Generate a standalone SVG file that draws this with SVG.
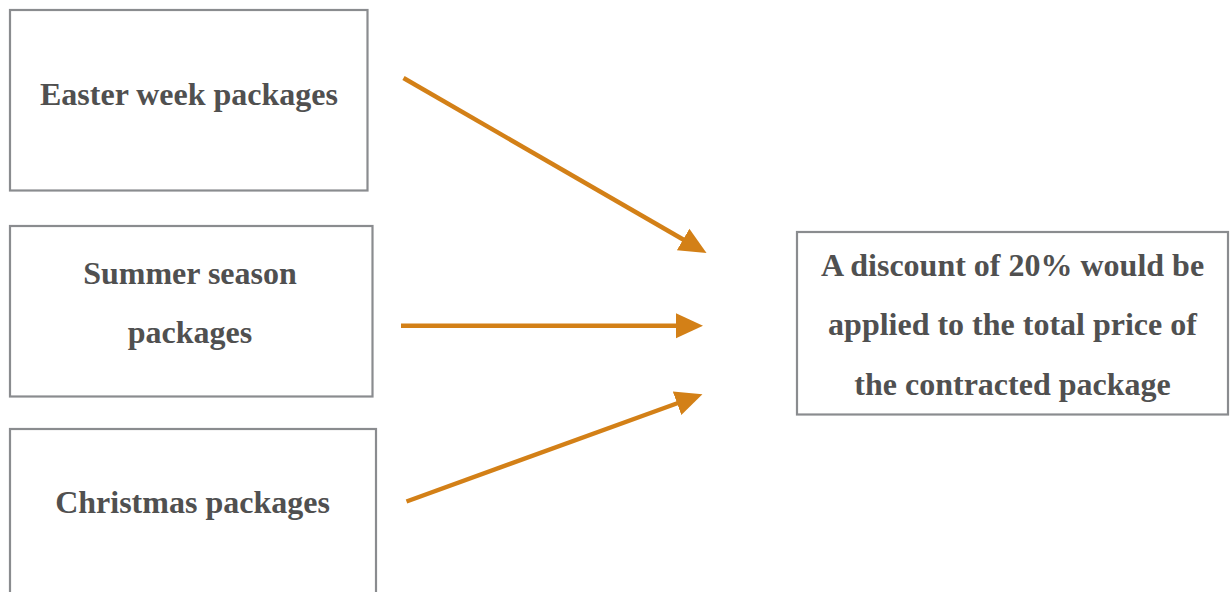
<svg xmlns="http://www.w3.org/2000/svg" width="1230" height="592" viewBox="0 0 1230 592">
<style>
.box{fill:#fff;stroke:#8a8c8f;stroke-width:2.2}
.t{font-family:"Liberation Serif","Times New Roman",serif;font-weight:bold;font-size:32px;fill:#505050;text-anchor:middle}
.c{stroke:#d38017;stroke-width:4.5;fill:none}
</style>
<defs>
<marker id="ah" markerUnits="userSpaceOnUse" markerWidth="28" markerHeight="28" viewBox="0 0 28 28" refX="1" refY="14" orient="auto">
<path d="M0,1.5 L27,14 L0,26.5 Z" fill="#d38017"/>
</marker>
</defs>
<rect width="1230" height="592" fill="#fff"/>
<g id="node-easter">
<rect class="box" x="10" y="10" width="357.5" height="180.5"/>
<text class="t" x="189" y="105">Easter week packages</text>
</g>
<g id="node-summer">
<rect class="box" x="10" y="226" width="362.5" height="170.5"/>
<text class="t" x="190" y="284">Summer season</text>
<text class="t" x="190" y="343">packages</text>
</g>
<g id="node-christmas">
<rect class="box" x="10" y="429" width="366" height="175"/>
<text class="t" x="192.5" y="513">Christmas packages</text>
</g>
<g id="node-discount">
<rect class="box" x="797" y="232" width="431" height="182.5"/>
<text class="t" x="1012.5" y="276">A discount of 20% would be</text>
<text class="t" x="1012.5" y="335">applied to the total price of</text>
<text class="t" x="1012.5" y="395">the contracted package</text>
</g>
<g id="connectors">
<line class="c" x1="403.5" y1="78" x2="684" y2="240" marker-end="url(#ah)"/>
<line class="c" x1="401" y1="325.7" x2="677" y2="325.7" marker-end="url(#ah)"/>
<line class="c" x1="406.5" y1="501.5" x2="678" y2="403" marker-end="url(#ah)"/>
</g>
</svg>
